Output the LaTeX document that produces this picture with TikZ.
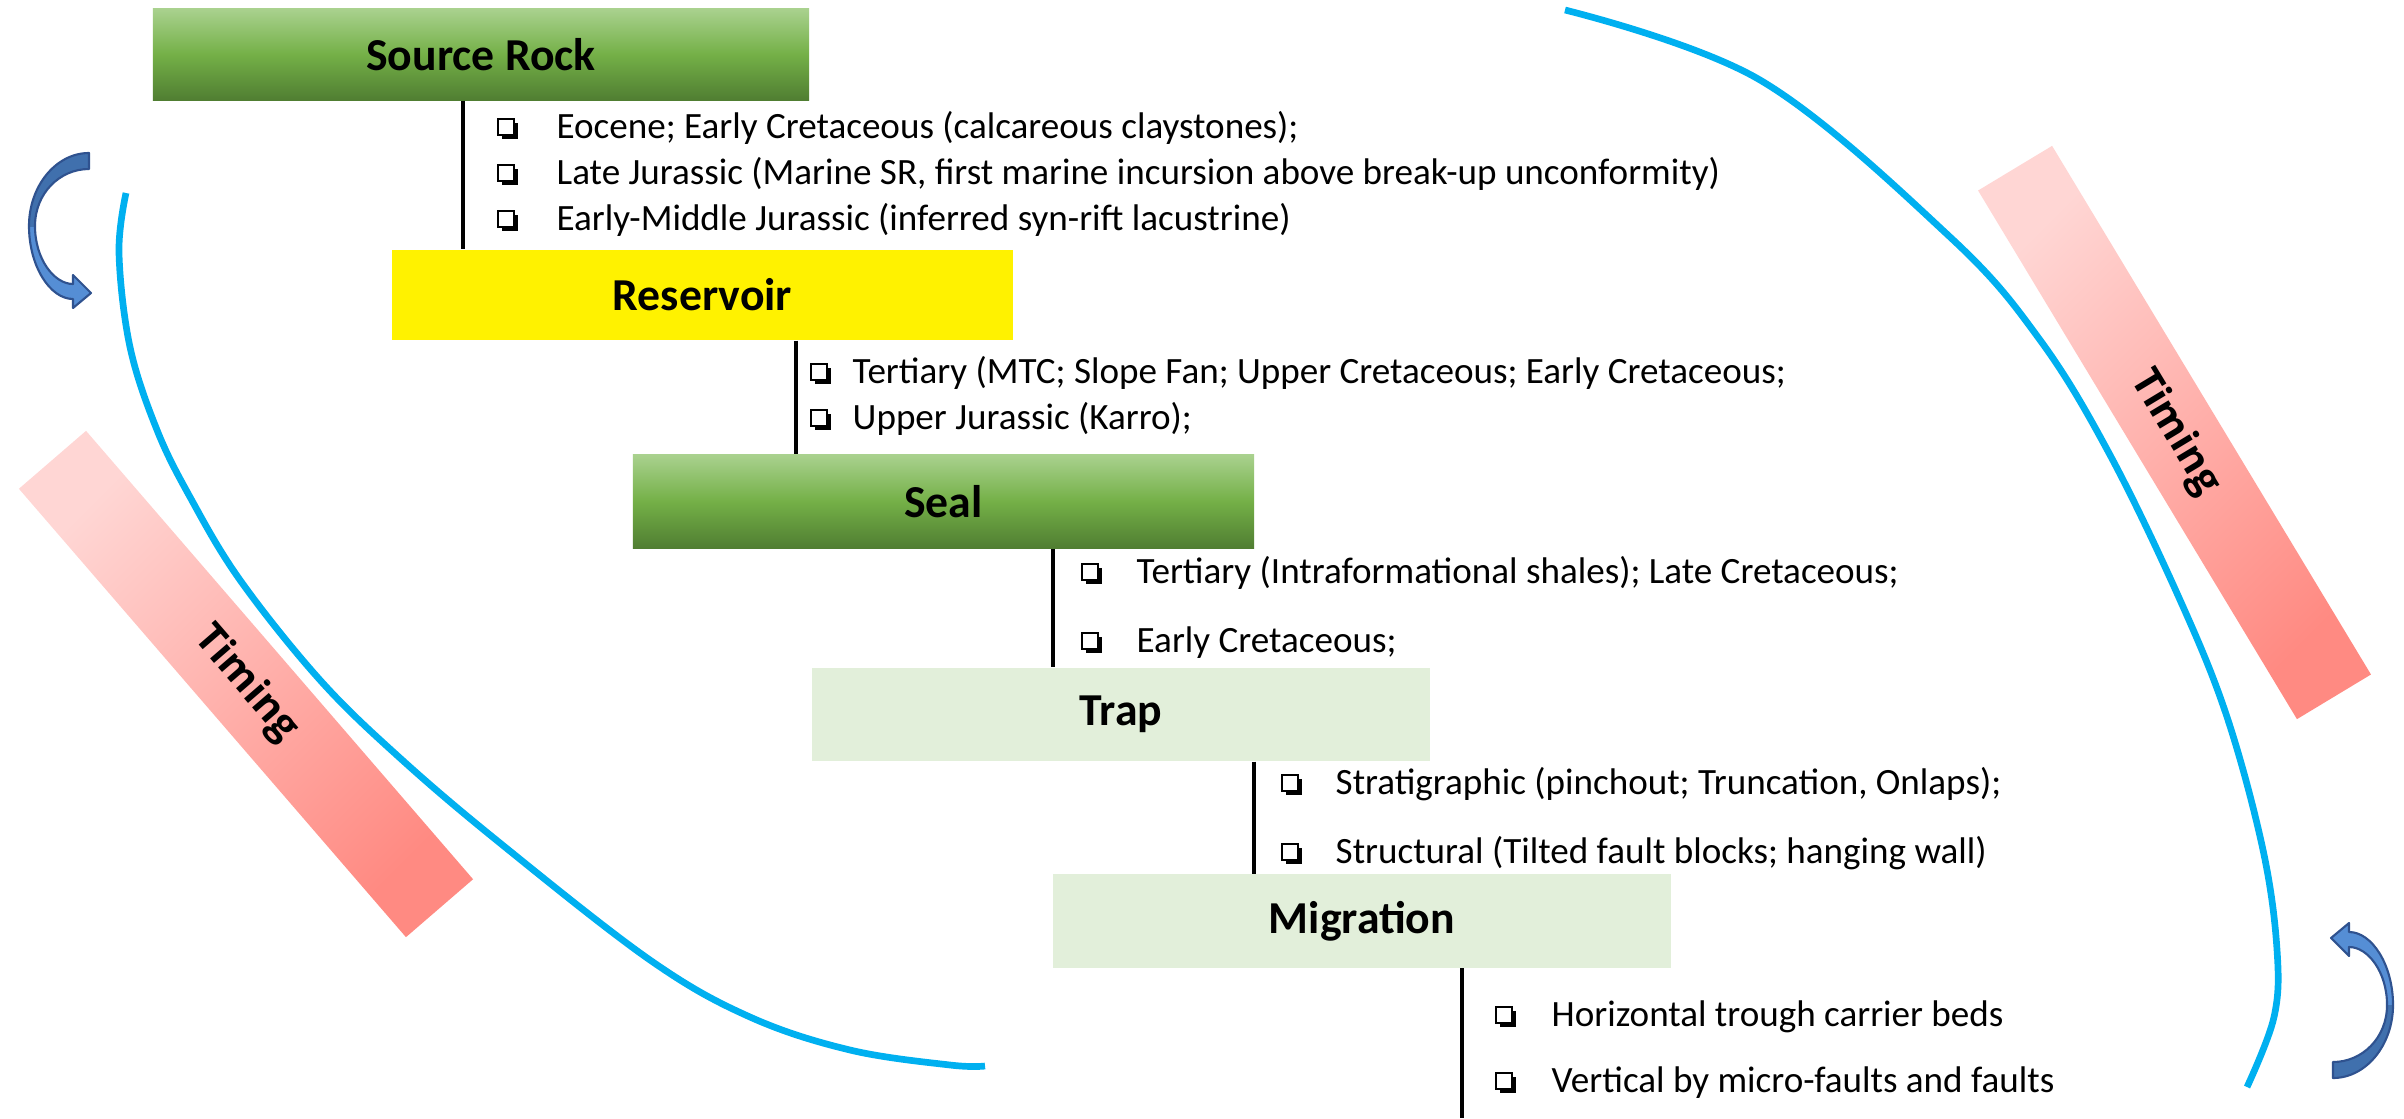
\documentclass[tikz,border=0pt]{standalone}
\usepackage{fontspec}
\setmainfont{Carlito}
\newfontfamily\timf{Open Sans}
\usetikzlibrary{calc,shadows}
\definecolor{arcblue}{HTML}{00B0F0}
\definecolor{gtop}{HTML}{A9D18E}
\definecolor{gmid}{HTML}{74B047}
\definecolor{gbot}{HTML}{507E32}
\definecolor{pale}{HTML}{E2EFDA}
\definecolor{pinkl}{HTML}{FFD6D4}
\definecolor{pinkd}{HTML}{FF8A82}
\definecolor{arrl}{HTML}{558ED5}
\definecolor{arrd}{HTML}{4070AD}
\definecolor{arro}{HTML}{2F528F}
\tikzset{
  stage/.style={inner sep=0pt, font=\fontsize{13}{15}\selectfont\bfseries, text=black},
  greenbox/.style={stage, top color=gtop, bottom color=gbot, middle color=gmid},
  yellowbox/.style={stage, fill=yellow},
  palebox/.style={stage, fill=pale},
  vline/.style={line width=1.3pt, black},
  cycarc/.style={line width=1.9pt, arcblue},
  chk/.style={draw=black, fill=white, line width=0.55pt, minimum size=0.155cm, inner sep=0pt,
    drop shadow={shadow xshift=1.1pt, shadow yshift=-1.1pt, opacity=1, fill=black}},
  btxt/.style={anchor=west, inner sep=0pt, text height=8pt, text depth=1.2pt, font=\fontsize{10.55}{12}\selectfont},
  timingbar/.style={inner sep=0pt, top color=pinkl, bottom color=pinkd, shading angle=45,
    font=\timf\bfseries\fontsize{11.5}{13}\selectfont},
  arrowout/.style={draw=arro, line width=0.6pt, line join=round}
}
\newcommand{\bitem}[5]{\node[chk] (#1c) at (#2,#4) {};\node[btxt] (#1) at (#3,#4) {#5};}
\newcommand{\arrowshape}{(2333,1078) .. controls (2366,1078) and (2393,1045) .. (2393,1005) .. controls (2393,965) and (2372,932) .. (2349,932) -- (2349,923) -- (2331,938) -- (2349,956) -- (2349,947) .. controls (2368,947) and (2387,972) .. (2387,1005) .. controls (2387,1038) and (2362,1062) .. (2333,1062) -- cycle}
\newcommand{\curvedarrow}{%
  \fill[arrl] \arrowshape;
  \begin{scope}
    \clip (2300,1005) rectangle (2404,1100);
    \fill[arrd] \arrowshape;
  \end{scope}
  \draw[arrowout] \arrowshape;}
\begin{document}
\begin{tikzpicture}[x=0.01cm,y=-0.01cm]
\fill[white] (0,0) rectangle (2404,1118);
\useasboundingbox (0,0) rectangle (2404,1118);

% timing bars
\node[timingbar, rotate=-49.2, minimum width=5.92cm, minimum height=0.886cm] (tl) at (246,684) {Timing};
\node[timingbar, rotate=-58.9, minimum width=6.17cm, minimum height=0.864cm] (tr) at (2174.5,432.5) {Timing};

% blue cycle arcs
\draw[cycarc] plot[smooth, tension=0.6] coordinates {(126,193) (119,253) (130,347) (157,430) (190,497) (240,580) (320,680) (400,758) (500,843) (650,960) (750,1017) (850,1050) (950,1065) (985,1066)};
\draw[cycarc] plot[smooth, tension=0.6] coordinates {(1565,10) (1760,80) (1950,237) (2040,340) (2110,455) (2180,600) (2227,717) (2263,850) (2277,950) (2274,1017) (2247,1087)};

% curved arrows
\curvedarrow
\begin{scope}[rotate around={180:(1211,615.5)}]
\curvedarrow
\end{scope}

% stage boxes
\node[greenbox, minimum width=6.56cm, minimum height=0.91cm] (sr) at (481,54.5) {Source Rock};
\node[yellowbox, minimum width=6.21cm, minimum height=0.90cm] (res) at (702.5,295) {Reservoir};
\node[greenbox, minimum width=6.21cm, minimum height=0.93cm] (seal) at (943.5,501.5) {Seal};
\node[palebox, minimum width=6.18cm, minimum height=0.93cm] (trap) at (1121,714.5) {Trap};
\node[palebox, minimum width=6.18cm, minimum height=0.93cm] (mig) at (1362,921) {Migration};

% connectors
\coordinate (x1) at (463,0);
\coordinate (x2) at (796,0);
\coordinate (x3) at (1053,0);
\coordinate (x4) at (1254,0);
\coordinate (x5) at (1462,0);
\coordinate (bot) at (1462,1118);
\draw[vline] (x1 |- sr.south) -- (x1 |- res.north);
\draw[vline] (x2 |- res.south) -- (x2 |- seal.north);
\draw[vline] (x3 |- seal.south) -- (x3 |- trap.north);
\draw[vline] (x4 |- trap.south) -- (x4 |- mig.north);
\draw[vline] (x5 |- mig.south) -- (bot);

% bullets
\bitem{sra}{506}{556}{127}{Eocene; Early Cretaceous (calcareous claystones);}
\bitem{srb}{506}{556}{173}{Late Jurassic (Marine SR, first marine incursion above break-up unconformity)}
\bitem{src}{506}{556}{219}{Early-Middle Jurassic (inferred syn-rift lacustrine)}
\bitem{resa}{819}{852}{372}{Tertiary (MTC; Slope Fan; Upper Cretaceous; Early Cretaceous;}
\bitem{resb}{819}{852}{418}{Upper Jurassic (Karro);}
\bitem{seala}{1090}{1136}{572}{Tertiary (Intraformational shales); Late Cretaceous;}
\bitem{sealb}{1090}{1136}{641}{Early Cretaceous;}
\bitem{trapa}{1290}{1335}{783}{Stratigraphic (pinchout; Truncation, Onlaps);}
\bitem{trapb}{1290}{1335}{852}{Structural (Tilted fault blocks; hanging wall)}
\bitem{miga}{1504}{1551}{1015}{Horizontal trough carrier beds}
\bitem{migb}{1504}{1551}{1081}{Vertical by micro-faults and faults}
\end{tikzpicture}
\end{document}
